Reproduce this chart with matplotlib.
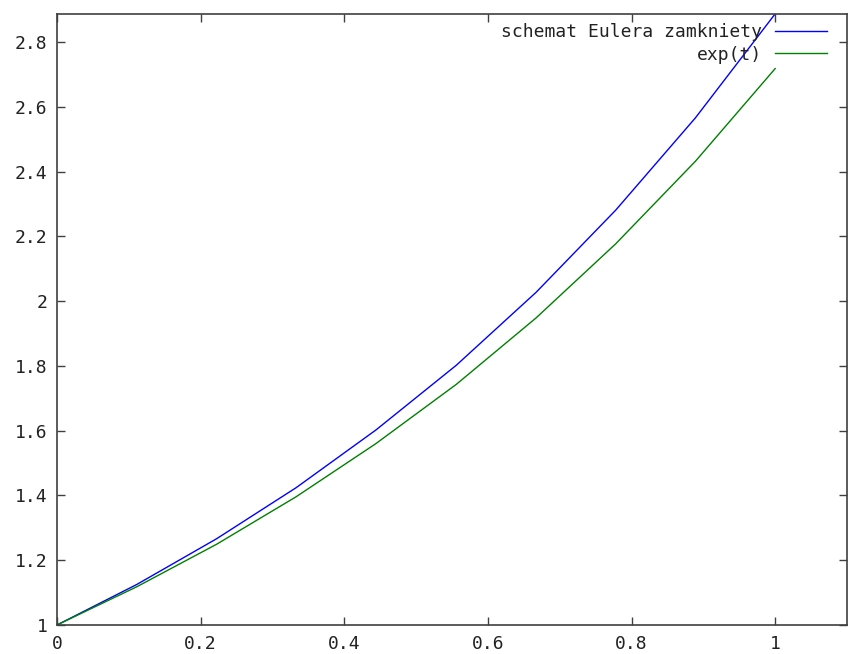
import matplotlib
matplotlib.use("Agg")
import matplotlib.pyplot as plt

# values
t = [0.0, 0.111, 0.222, 0.333, 0.444, 0.556, 0.667, 0.778, 0.889, 1.0]
euler = [1.0, 1.125, 1.266, 1.424, 1.602, 1.802, 2.027, 2.281, 2.566, 2.887]
expt = [1.0, 1.118, 1.249, 1.396, 1.560, 1.743, 1.948, 2.177, 2.432, 2.718]
xticks = [0, 0.2, 0.4, 0.6, 0.8, 1]
xticklabels = ["0", "0.2", "0.4", "0.6", "0.8", "1"]
yticks = [1, 1.2, 1.4, 1.6, 1.8, 2, 2.2, 2.4, 2.6, 2.8]
yticklabels = ["1", "1.2", "1.4", "1.6", "1.8", "2", "2.2", "2.4", "2.6", "2.8"]

W, H = 849, 654
fig = plt.figure(figsize=(W / 100, H / 100), dpi=100)
ax = fig.add_axes([57 / W, 1 - 625 / H, (847 - 57) / W, (625 - 14) / H])

FONT = "DejaVu Sans Mono"
FS = 13

ax.plot(t, euler, color="#0000ff", lw=1.0, label="schemat Eulera zamkniety")
ax.plot(t, expt, color="#008000", lw=1.0, label="exp(t)")

ax.set_xlim(0, 1.1)
ax.set_ylim(1, 2.8865)
ax.set_xticks(xticks)
ax.set_xticklabels(xticklabels, family=FONT, fontsize=FS, color="#222222")
ax.set_yticks(yticks)
ax.set_yticklabels(yticklabels, family=FONT, fontsize=FS, color="#222222")
ax.tick_params(direction="in", length=6, width=1, color="#404040",
               top=True, right=True, pad=7)

for s in ax.spines.values():
    s.set_color("#404040")
    s.set_linewidth(1.2)

# gnuplot-style key: text right-aligned, sample line after it
leg = ax.legend(loc="upper right", bbox_to_anchor=(827 / W, 1 - 23 / H),
                bbox_transform=fig.transFigure, frameon=False,
                markerfirst=False, handlelength=2.9, handletextpad=0.7,
                labelspacing=0.25, borderaxespad=0, borderpad=0,
                prop={"family": FONT, "size": FS})
for txt in leg.get_texts():
    txt.set_color("#222222")

fig.savefig("out.png", dpi=100, facecolor="white")
